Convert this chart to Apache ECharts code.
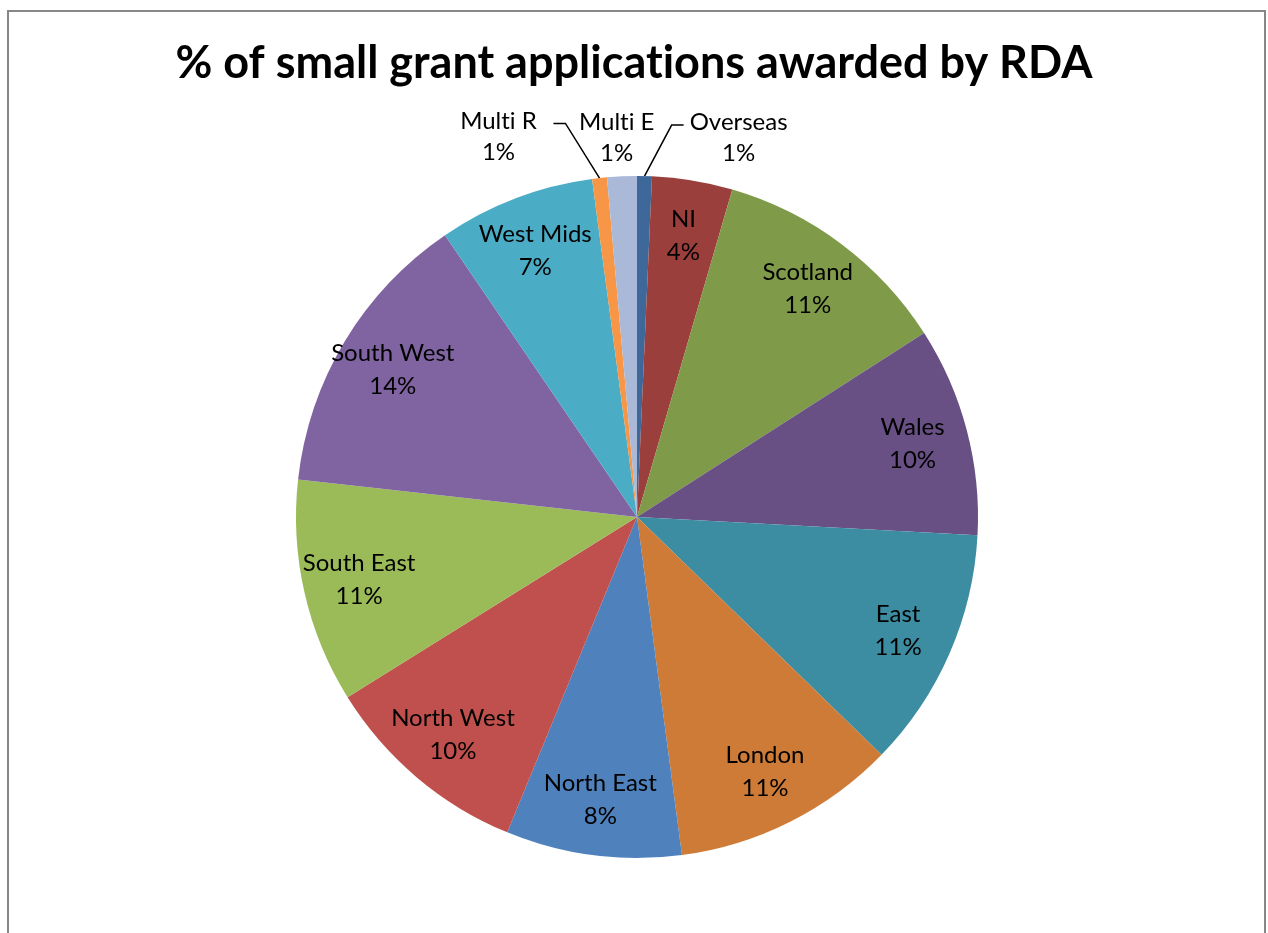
<!DOCTYPE html>
<html>
<head>
<meta charset="utf-8">
<script src="https://cdn.jsdelivr.net/npm/echarts@6/dist/echarts.min.js"></script>
<style>
  html, body { margin: 0; padding: 0; background: #fff; }
  #chart { width: 1268px; height: 933px; }
</style>
</head>
<body>
<div id="chart"></div>
<script>
const regions = ["Overseas", "NI", "Scotland", "Wales", "East", "London", "North East",
  "North West", "South East", "South West", "West Mids", "Multi R", "Multi E"];
const shares = [0.7, 3.8, 11.4, 9.9, 11.4, 10.6, 8.3, 9.9, 10.6, 13.7, 7.4, 0.7, 1.4];
const sliceColors = ["#3e689a", "#9b3f3d", "#7f9a48", "#684f84", "#3c8ca2", "#cd7b37",
  "#4f81bd", "#c0504d", "#9bbb59", "#8064a2", "#4bacc6", "#f79646", "#aab9d8"];
// small slices get their label outside with a leader line
const outsideLabels = ["Overseas", "Multi R", "Multi E"];

const font = "Lato, 'Noto Sans', sans-serif";
const center = [637, 517];
const radius = 341;

// keep Lato from drawing the "ti" ligature
const noLig = s => s.replace(/ti/g, "t\u200ci");

const pctText = p => {
  return "{t|" + noLig(p.name) + "}\n{t|" + Math.round(p.percent) + "%}";
};

const mainData = regions.map((name, i) => {
  const outside = outsideLabels.indexOf(name) >= 0;
  const item = {
    name: name,
    value: shares[i],
    itemStyle: { color: sliceColors[i] },
    label: { show: outside },
    labelLine: { show: outside }
  };
  if (name === "Overseas") item.labelLine = { show: true, length: 51, length2: 38 };
  if (name === "Multi R") item.labelLine = { show: true, length: 55, length2: 40 };
  if (name === "Multi E") item.labelLine = { show: false, length: 52, length2: -52 };
  return item;
});

// transparent ring only used to place the inside labels near the rim
const labelData = regions.map((name, i) => {
  const inside = outsideLabels.indexOf(name) < 0;
  return {
    name: name,
    value: shares[i],
    label: { show: inside }
  };
});

// bend the leader lines like Excel does: slanted first leg, short flat tail
const bendLine = params => {
  const pts = params.labelLinePoints;
  if (!pts || pts.length < 3) return { hideOverlap: false };
  const p0 = pts[0], p1 = pts[1], p2 = pts[2];
  const dir = p2[0] >= p1[0] ? 1 : -1;
  return {
    hideOverlap: false,
    labelLinePoints: [p0, [p2[0] - dir * 12, p1[1]], p2]
  };
};

const chart = echarts.init(document.getElementById("chart"));
chart.setOption({
  animation: false,
  title: {
    text: noLig("% of small grant applications awarded by RDA"),
    left: "center",
    top: 36,
    textStyle: { fontFamily: font, fontWeight: "bold", fontSize: 45, color: "#000" }
  },
  graphic: [{
    type: "rect",
    shape: { x: 8, y: 11, width: 1257, height: 950 },
    style: { fill: "none", stroke: "#878787", lineWidth: 2 },
    silent: true
  }],
  series: [
    {
      type: "pie",
      center: center,
      radius: radius,
      startAngle: 90,
      clockwise: true,
      avoidLabelOverlap: false,
      labelLayout: bendLine,
      silent: true,
      percentPrecision: 2,
      itemStyle: { borderWidth: 0 },
      label: {
        position: "outside",
        formatter: pctText,
        padding: [26, 0, 0, 0],
        rich: { t: { fontFamily: font, fontSize: 24, lineHeight: 31, color: "#000", width: 100, align: "center" } }
      },
      labelLine: { lineStyle: { color: "#000", width: 1.5 }, smooth: false },
      data: mainData
    },
    {
      type: "pie",
      center: center,
      radius: [256, 308],
      startAngle: 90,
      clockwise: true,
      avoidLabelOverlap: false,
      silent: true,
      percentPrecision: 2,
      itemStyle: { color: "transparent", borderWidth: 0 },
      emphasis: { disabled: true },
      label: {
        position: "inside",
        formatter: pctText,
        rich: { t: { fontFamily: font, fontSize: 24, lineHeight: 33, color: "#000", align: "center" } }
      },
      labelLine: { show: false },
      data: labelData
    }
  ]
});
</script>
</body>
</html>
